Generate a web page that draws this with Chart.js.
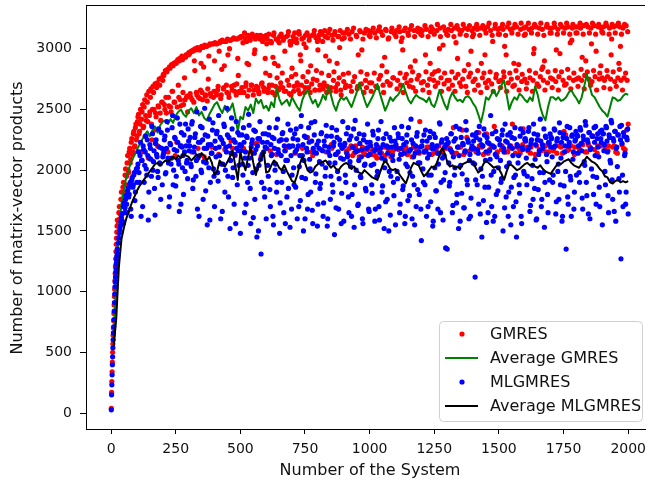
<!DOCTYPE html>
<html>
<head>
<meta charset="utf-8">
<script src="https://cdn.jsdelivr.net/npm/chart.js@4.4.1/dist/chart.umd.min.js"></script>
<style>
  html, body { margin: 0; padding: 0; background: #fff; }
  #wrap { width: 649px; height: 485px; }
</style>
</head>
<body>
<div id="wrap"><canvas id="myChart" width="649" height="485"></canvas></div>
<script>
// systems 1..24, one value each
const earlyStart = 1;
const gmresEarly = [40, 170, 260, 340, 420, 500, 570, 640, 700, 760, 820, 890, 960, 1020, 1090, 1150, 1210, 1270, 1330, 1390, 1440, 1490, 1540, 1590];
const mlgmresEarly = [27, 150, 233, 315, 398, 463, 537, 603, 660, 710, 770, 840, 910, 980, 1040, 1080, 1120, 1160, 1190, 1230, 1260, 1290, 1320, 1350];

// systems 28, 32, ... 2000
const startA = 28;
// systems 30, 34, ... 1998
const startB = 30;
const mainStep = 4;

const gmresA = [
  1560, 1700, 1640, 1820, 1760, 1900, 1820, 2010, 1950, 2120, 1980, 2180, 2090, 2260, 2150, 2320, 2200, 2380, 2280,
  2440, 2300, 2380, 2150, 2480, 2350, 2520, 2280, 2410, 2560, 2100, 2450, 2600, 2380, 2500, 2640, 2330, 2470, 2680, 2200, 2520, 2700, 2410, 2560, 2740,
  2780, 2500, 2600, 2810, 2150, 2530, 2840, 2480, 2650, 2860, 2560, 2120, 2880, 2520, 2700, 2900, 2580, 2200, 2910, 2540, 2760, 2930, 2600, 2480, 2950,
  2960, 2600, 2150, 2980, 2560, 2820, 2990, 2620, 2180, 3000, 2590, 2880, 2640, 3010, 2110, 2610, 3020, 2570, 2750, 3030, 2630, 2200, 3040, 2600, 2900,
  3040, 2620, 2660, 2130, 3050, 2590, 2830, 3060, 2680, 2170, 3060, 2640, 2950, 2600, 3070, 2240, 2660, 3080, 2700, 2120, 2620, 3080, 2780, 2650, 3090,
  3100, 2640, 2180, 3130, 2690, 3060, 2610, 2870, 3090, 2150, 2700, 3100, 2660, 2990, 2220, 3110, 2680, 2630, 3080, 2110, 2720, 3100, 2650, 2920, 3110,
  3080, 2670, 2700, 2160, 3050, 2640, 3110, 2880, 2690, 2130, 3070, 2660, 3100, 2720, 2250, 2680, 3090, 2980, 2650, 2190, 3110, 2700, 3060, 2620, 2840,
  3100, 2690, 2140, 3080, 2720, 2660, 3120, 2950, 2700, 2180, 3090, 2640, 3110, 2730, 2270, 2680, 3100, 2860, 2710, 2120, 3120, 2660, 3090, 2740, 2990,
  3110, 2700, 2170, 3120, 2670, 2720, 3100, 2150, 2690, 3130, 2900, 2650, 2210, 3110, 2740, 3120, 2680, 2130, 2710, 3100, 3010, 2660, 2190, 3130, 2730,
  3130, 2700, 2160, 2120, 3120, 2690, 2200, 3140, 2730, 2140, 2180, 3110, 2670, 2950, 2110, 3140, 2710, 2190, 2150, 3130, 2740, 2680, 2170, 3150, 2720,
  3140, 2720, 2130, 2170, 3130, 2690, 2100, 3150, 2750, 2150, 3140, 2860, 2700, 2190, 2120, 3150, 2730, 3080, 2160, 2710, 3140, 2140, 2760, 3130, 2200,
  3150, 2740, 2170, 3140, 2700, 2130, 2990, 3150, 2760, 2190, 2720, 3130, 2150, 3160, 2740, 2110, 2680, 3150, 2900, 2180, 2750, 3140, 2140, 3160, 2720,
  3150, 2730, 2160, 2950, 3160, 2700, 2190, 2750, 3140, 2130, 3160, 2740, 2810, 2170, 3150, 2720, 2200, 3170, 2760, 2150, 3030, 2710, 3150, 2180, 2740,
  3160, 2740, 2170, 3150, 2700, 2350, 3170, 2760, 2140, 2920, 3160, 2720, 2190, 3150, 2750, 2130, 3170, 2690, 2270, 3160, 2770, 2160, 2980, 3150, 2730,
  3170, 2750, 2150, 3160, 2700, 2200, 3170, 2880, 2760, 2130, 3160, 2720, 2300, 3180, 2740, 2170, 3150, 2710, 3060, 2190, 3170, 2760, 2140, 3160, 2730,
  3170, 2740, 2200, 3160, 2770, 2150, 2950, 3180, 2720, 2180, 3160, 2750, 2380, 3170, 2700, 2140, 3180, 2760, 2870, 2170, 3160, 2730, 2210, 3170, 2750,
  3180, 2720, 2160, 3160, 2760, 2190, 3170, 2740, 3000, 2130, 3180, 2710, 2250, 3170, 2770, 2160, 3160, 2740, 2900, 2200, 3180, 2720, 2150, 3170, 2760,
  3170, 2750, 2180, 3180, 2730, 2140, 3160, 2770, 2960, 2190, 3180, 2740, 2320, 3170, 2710, 2160, 3180, 2760, 3050, 2200, 3170, 2740, 2130, 3180, 2750,
  3180, 2760, 2170, 3170, 2740, 2210, 3190, 2780, 2900, 2150, 3180, 2750, 2190, 3170, 2730, 2280, 3190, 2770, 2980, 2140, 3180, 2750, 2200, 3170, 2760,
  3180, 2740, 2160, 3190, 2770, 2200, 3170, 2750, 3080, 2190, 3180, 2730, 2150, 3190, 2760, 2880, 3180, 2740, 2210, 3170, 2760, 2170, 3190, 2740, 2380
];
const gmresB = [
  1650, 1600, 1760, 1700, 1860, 1780, 1960, 1880, 2060, 2000, 2150, 2060, 2230, 2130, 2300, 2190, 2350, 2250,
  2400, 2460, 2320, 2500, 2420, 2540, 2360, 2580, 2450, 2620, 2400, 2650, 2480, 2670, 2250, 2690, 2500, 2710, 2440, 2720, 2530, 2750, 2470, 2760, 2560,
  2790, 2540, 2820, 2470, 2830, 2600, 2850, 2520, 2870, 2650, 2880, 2560, 2890, 2230, 2910, 2600, 2920, 2530, 2940, 2640, 2930, 2580, 2950, 2610, 2960,
  2970, 2630, 2980, 2580, 2990, 2900, 3000, 2640, 3010, 2600, 2990, 2660, 3020, 2580, 2850, 3030, 2620, 3020, 2670, 2940, 3040, 2610, 2190, 3040, 2650,
  3050, 2640, 3040, 2690, 2980, 3060, 2620, 3070, 2670, 2860, 3060, 2700, 3080, 2630, 3000, 3070, 2690, 2180, 3090, 2650, 3080, 2710, 2920, 3090, 2640,
  3100, 2680, 3050, 2640, 3090, 2720, 2880, 3110, 2660, 3070, 2700, 3120, 2620, 2960, 3080, 2690, 3100, 2650, 2240, 3110, 2710, 3060, 2680, 3090, 2800,
  3040, 2640, 3120, 2780, 3060, 2700, 2930, 3130, 2620, 3080, 2760, 2860, 3050, 2680, 3120, 2800, 3070, 2650, 2160, 3100, 2740, 3140, 2630, 3030, 2770,
  3060, 2650, 3130, 2790, 3050, 2700, 3140, 2630, 2900, 3080, 2770, 3040, 2680, 3010, 3130, 2810, 3070, 2640, 2150, 3110, 2750, 3150, 2660, 2820, 3060,
  3080, 2660, 3140, 2800, 3060, 2700, 3150, 2940, 2640, 3090, 2780, 3160, 2680, 2180, 3070, 2810, 3140, 2650, 2880, 3100, 2760, 3150, 2620, 3080, 2790,
  3090, 2680, 2150, 3160, 2800, 2180, 3080, 2650, 2120, 3170, 2770, 2200, 3100, 2690, 2160, 3150, 2810, 2990, 3080, 2640, 2130, 3160, 2790, 2190, 3110,
  3100, 2650, 2160, 3170, 2800, 2120, 3090, 2680, 2190, 3180, 2780, 2140, 3110, 2640, 2930, 3160, 2810, 2180, 3090, 2700, 2110, 3170, 2760, 2170, 3120,
  3100, 2670, 2180, 3180, 2800, 3060, 3090, 2640, 2160, 3170, 2790, 2130, 3110, 2690, 2850, 3190, 2810, 2190, 3100, 2650, 2150, 3170, 2780, 2400, 3120,
  3110, 2660, 2150, 3190, 2810, 2190, 3100, 2640, 2880, 3180, 2790, 2140, 3120, 2690, 2180, 3200, 2820, 3000, 3100, 2650, 2160, 3180, 2800, 2200, 3120,
  3110, 2670, 2180, 3200, 2810, 2140, 3100, 2650, 3050, 3190, 2790, 2190, 3120, 2690, 2330, 3200, 2820, 2150, 3110, 2640, 2870, 3190, 2800, 2170, 3100,
  3120, 2660, 2160, 3200, 2820, 2310, 3110, 2640, 2190, 3190, 2800, 2950, 3130, 2680, 2140, 3210, 2810, 2200, 3110, 2650, 2360, 3200, 2790, 2150, 3120,
  3120, 2680, 2170, 3200, 2810, 3020, 3110, 2650, 2150, 3210, 2800, 2200, 3130, 2690, 2880, 3200, 2820, 2190, 3120, 2660, 2140, 3210, 2790, 2340, 3110,
  3120, 2670, 2190, 3210, 2820, 2140, 3130, 2650, 2960, 3200, 2800, 2200, 3120, 2690, 2170, 3210, 2830, 2850, 3110, 2660, 2150, 3200, 2810, 2230, 3130,
  3130, 2680, 2160, 3210, 2820, 2990, 3120, 2660, 2200, 3200, 2810, 2140, 3130, 2700, 2290, 3210, 2830, 2170, 3120, 2670, 3070, 3200, 2800, 2190, 3130,
  3130, 2690, 2180, 3210, 2830, 2930, 3120, 2670, 2150, 3200, 2810, 2210, 3130, 2700, 3040, 3210, 2820, 2170, 3120, 2660, 2200, 3200, 2800, 2860, 3140,
  3130, 2680, 2190, 3210, 2820, 2160, 3120, 2670, 2950, 3200, 2810, 2200, 3130, 2690, 2140, 3210, 2830, 3020, 3120, 2660, 2180, 3200, 2800, 2330, 3140
];
const mlgmresA = [
  1400, 1480, 1540, 1610, 1580, 1700, 1650, 1760, 1720, 1830, 1780, 1880, 1680, 1920, 1860, 1960, 1750, 1990, 1900,
  2050, 1980, 2120, 1620, 2080, 2200, 1900, 2150, 2010, 2250, 1590, 2100, 2180, 1950, 2300, 2070, 1850, 2220, 2130, 1990, 2340, 2060, 1760, 2180, 2110,
  2150, 2280, 1980, 2400, 2100, 1700, 2220, 2050, 2350, 1880, 2170, 2260, 1950, 2430, 2080, 1660, 2200, 2310, 2020, 1800, 2150, 2380, 2060, 1930, 2240,
  2200, 2050, 2380, 1850, 2150, 2270, 1950, 2480, 2100, 1620, 2230, 2000, 2350, 1760, 2180, 2290, 2060, 1550, 2210, 2420, 1900, 2140, 2330, 2010, 1700,
  2180, 2300, 1980, 2450, 2120, 1600, 2250, 2050, 2380, 1820, 2190, 2510, 1950, 2270, 1520, 2140, 2340, 2020, 1720, 2230, 2400, 1880, 2160, 2290, 1480,
  2200, 2050, 2350, 1650, 2150, 2280, 1900, 2460, 2100, 1560, 2220, 1980, 2330, 1760, 2170, 1450, 2260, 2040, 2400, 1310, 2130, 2300, 1850, 2190, 1600,
  2230, 1950, 2350, 1700, 2120, 2270, 1550, 2180, 2050, 1820, 2420, 2140, 1480, 2250, 1900, 2310, 1650, 2160, 2080, 1780, 2380, 2200, 1530, 2120, 1960,
  2260, 1880, 2150, 2340, 1600, 2200, 2030, 1750, 2450, 2120, 1500, 2280, 1930, 2180, 1680, 2350, 2090, 1820, 2240, 1560, 2150, 2400, 1970, 2210, 1720,
  2180, 1850, 2300, 2050, 1620, 2240, 1950, 2370, 1540, 2150, 2060, 1760, 2280, 1880, 2200, 1470, 2130, 2330, 1990, 1680, 2250, 2100, 1810, 2400, 1580,
  2220, 1900, 2140, 2350, 1650, 2070, 2280, 1800, 2190, 1530, 2410, 2000, 2160, 1720, 2300, 1950, 2110, 1600, 2250, 2040, 1850, 2180, 2380, 1680, 2130,
  2200, 1880, 2320, 2050, 1580, 2170, 1950, 2260, 1700, 2140, 2400, 1820, 2210, 1520, 2080, 2300, 1760, 2190, 1990, 1630, 2240, 2120, 1900, 2350, 1550,
  2180, 1930, 2270, 1650, 2130, 2360, 1840, 2210, 1560, 2050, 2290, 1750, 2160, 1980, 2420, 1600, 2220, 1880, 2140, 1700, 2310, 2060, 1800, 2190, 1420,
  2240, 1900, 2150, 2330, 1620, 2100, 1960, 2270, 1740, 2180, 1540, 2300, 2020, 1830, 2200, 1680, 2140, 2380, 1900, 2250, 1590, 2120, 1980, 2210, 1350,
  2230, 1870, 2170, 2300, 1650, 2110, 1960, 2260, 1730, 2190, 1520, 2340, 2040, 1810, 2220, 1690, 2150, 2400, 1920, 2250, 1600, 2130, 1770, 2200, 2060,
  2180, 1120, 2270, 1880, 2140, 2360, 1640, 2210, 1950, 1750, 2290, 2080, 1570, 2230, 1860, 2160, 2450, 1700, 2200, 1990, 1620, 2320, 2110, 1830, 2250,
  2210, 1900, 2290, 1500, 2150, 2380, 1780, 2230, 1620, 2060, 2310, 1860, 2180, 1700, 2260, 1960, 1450, 2200, 2120, 1810, 2340, 1560, 2170, 1990, 2250,
  2240, 1880, 2170, 2350, 1660, 2220, 1930, 1760, 2300, 2090, 1590, 2250, 1840, 2160, 2420, 1700, 2210, 1980, 1530, 2280, 2130, 1800, 2230, 1920, 2190,
  2260, 1900, 2190, 2330, 1640, 2240, 1990, 1760, 2310, 2100, 1580, 2270, 1870, 2200, 1350, 2360, 1720, 2230, 1950, 1620, 2290, 2150, 1820, 2250, 1960,
  2280, 2200, 1900, 2330, 2160, 1680, 2250, 2040, 2370, 1790, 2230, 2310, 1600, 2180, 2280, 1950, 2350, 2120, 1720, 2260, 2190, 1860, 2320, 2230, 1550,
  2300, 2210, 1880, 2350, 2150, 1650, 2270, 2060, 2390, 1760, 2240, 2320, 1580, 2190, 2290, 1930, 2360, 1270, 2220, 1700, 2280, 2140, 1820, 2250, 1640
];
const mlgmresB = [
  1440, 1510, 1580, 1640, 1560, 1730, 1690, 1790, 1650, 1850, 1800, 1900, 1620, 1940, 1880, 1980, 1820, 2010,
  2020, 2150, 1900, 2230, 2080, 1700, 2170, 2040, 2280, 1960, 2120, 1820, 2210, 2090, 2360, 2000, 2160, 1630, 2250, 2110, 1940, 2190, 2050, 2310, 1880,
  2130, 2250, 1970, 2180, 2330, 2060, 1780, 2210, 2100, 2450, 2000, 2270, 1870, 2160, 2230, 2050, 2380, 1720, 2190, 2120, 2290, 1990, 2200, 2080, 2340,
  2160, 2270, 2030, 2400, 1920, 2190, 2300, 2080, 1680, 2230, 2120, 2360, 1980, 2250, 2070, 2510, 1830, 2180, 2280, 2020, 1590, 2210, 2140, 2390, 1950,
  2240, 2110, 2320, 1910, 2190, 2270, 2050, 1660, 2220, 2360, 2000, 2150, 2290, 1780, 2200, 2080, 2430, 1940, 2250, 2130, 1560, 2180, 2310, 2040, 2210,
  2160, 2290, 1960, 2230, 2100, 1720, 2270, 2040, 2370, 1850, 2190, 2250, 1610, 2140, 2320, 2010, 2200, 1500, 2260, 2090, 1900, 2230, 2150, 1780, 2300,
  2180, 2040, 2290, 1840, 2210, 2130, 1620, 2260, 2000, 2350, 1900, 2170, 2240, 1730, 2120, 2300, 1990, 2200, 1560, 2250, 2080, 1850, 2190, 2330, 1680,
  2200, 2020, 2300, 1860, 2170, 2250, 1700, 2120, 2360, 1940, 2210, 2080, 1600, 2270, 2150, 1800, 2230, 2010, 2390, 1670, 2180, 2290, 1900, 2140, 1540,
  2240, 2070, 1890, 2310, 2160, 1730, 2200, 2020, 2280, 1600, 2190, 2120, 1950, 2350, 1820, 2230, 2060, 1690, 2270, 2150, 1930, 2210, 1560, 2180, 2090,
  2200, 1960, 2300, 2110, 1780, 2250, 2030, 1620, 2190, 2340, 1880, 2150, 2260, 1710, 2080, 2220, 1940, 2170, 1560, 2290, 2050, 1830, 2230, 2120, 1660,
  2230, 2040, 1810, 2290, 2160, 1680, 2210, 1990, 2330, 1590, 2180, 2100, 1870, 2260, 2020, 1740, 2200, 2140, 1500, 2270, 1950, 2190, 2080, 1790, 2240,
  2210, 1990, 2300, 2090, 1720, 2180, 2260, 1870, 2140, 1620, 2230, 2030, 2350, 1790, 2170, 2250, 1950, 2110, 1550, 2200, 2280, 1840, 2150, 2060, 1680,
  2200, 2010, 2290, 1880, 2160, 2240, 1700, 2130, 2320, 1960, 2210, 1580, 2180, 2270, 1830, 2140, 2050, 2390, 1650, 2230, 2100, 1920, 2190, 1360, 2260,
  2220, 2060, 1900, 2300, 2150, 1710, 2240, 2020, 2360, 1800, 2190, 2120, 1580, 2270, 1970, 2210, 1690, 2160, 2330, 1880, 2230, 2080, 1620, 2180, 2290,
  2240, 2050, 1920, 2310, 2170, 1720, 2250, 2010, 1450, 2200, 2340, 1860, 2150, 2270, 1650, 2220, 2090, 1960, 2300, 1580, 2190, 2130, 1800, 2260, 2020,
  2250, 2080, 1930, 2330, 2180, 1690, 2240, 2030, 2290, 1820, 2200, 1550, 2270, 2120, 1940, 2350, 1740, 2210, 2060, 1880, 2280, 1620, 2190, 2310, 1970,
  2260, 2100, 1950, 2320, 2190, 1710, 2250, 2040, 2380, 1850, 2210, 1600, 2290, 2130, 1980, 2240, 1760, 2180, 2340, 1900, 2270, 2070, 1650, 2220, 2300,
  2270, 2110, 1960, 2340, 2200, 1740, 2260, 2050, 2390, 1880, 2230, 1620, 2300, 2150, 1990, 2260, 1780, 2200, 2350, 1920, 2280, 2090, 1680, 2240, 2320,
  2290, 2140, 1980, 2350, 2220, 1770, 2280, 2070, 2400, 1900, 2250, 1640, 2310, 2170, 2010, 2280, 1800, 2230, 2360, 1940, 2300, 2110, 1700, 2260, 2330,
  2300, 2160, 1990, 2360, 2240, 1790, 2290, 2080, 2410, 1920, 2260, 1660, 2320, 2180, 2030, 2290, 1820, 2250, 2370, 1960, 2310, 2120, 1720, 2270, 2340
];

// running averages, systems 10, 20, ... 2000
const avgStep = 10;
const avgGmres = [
  600, 1150, 1500, 1720, 1850, 1950, 2020, 2080, 2120, 2170,
  2210, 2250, 2290, 2320, 2280, 2330, 2360, 2310, 2370, 2400,
  2410, 2380, 2420, 2390, 2450, 2480, 2500, 2460, 2440, 2490,
  2510, 2470, 2520, 2450, 2480, 2430, 2410, 2460, 2500, 2540,
  2560, 2510, 2470, 2530, 2480, 2500, 2550, 2450, 2320, 2440,
  2420, 2520, 2490, 2540, 2470, 2590, 2550, 2580, 2510, 2530,
  2490, 2560, 2520, 2680, 2590, 2540, 2560, 2580, 2530, 2600,
  2560, 2520, 2490, 2580, 2630, 2660, 2600, 2550, 2580, 2520,
  2560, 2620, 2580, 2690, 2620, 2540, 2490, 2560, 2600, 2580,
  2600, 2560, 2520, 2580, 2640, 2720, 2650, 2580, 2520, 2560,
  2600, 2650, 2710, 2630, 2560, 2490, 2540, 2600, 2570, 2600,
  2620, 2660, 2710, 2640, 2580, 2550, 2590, 2620, 2600, 2590,
  2580, 2560, 2600, 2540, 2520, 2580, 2660, 2600, 2540, 2500,
  2590, 2640, 2600, 2570, 2580, 2560, 2600, 2610, 2590, 2550,
  2520, 2460, 2390, 2480, 2600, 2580, 2620, 2660, 2610, 2650,
  2700, 2740, 2620, 2500, 2560, 2600, 2580, 2630, 2610, 2580,
  2560, 2600, 2570, 2690, 2620, 2520, 2450, 2410, 2520, 2600,
  2600, 2580, 2600, 2570, 2580, 2600, 2640, 2660, 2620, 2590,
  2550, 2600, 2690, 2790, 2700, 2620, 2600, 2560, 2520, 2490,
  2470, 2440, 2520, 2600, 2590, 2570, 2580, 2610, 2630, 2620
];
const avgMlgmres = [
  550, 780, 1200, 1430, 1530, 1610, 1670, 1730, 1780, 1830,
  1870, 1900, 1930, 1960, 1990, 2020, 2050, 2060, 2040, 2060,
  2080, 2070, 2090, 2110, 2090, 2120, 2100, 2140, 2120, 2110,
  2080, 2100, 2130, 2110, 2140, 2120, 2080, 2110, 2060, 1960,
  1990, 2080, 2050, 2030, 2070, 2110, 2160, 2040, 1920, 2150,
  2060, 2000, 2110, 2190, 2060, 1960, 2050, 2090, 2160, 1980,
  1990, 2040, 2080, 2060, 2020, 2000, 2040, 1990, 1950, 1910,
  1900, 1960, 2050, 2110, 2060, 2000, 1980, 1990, 2030, 2050,
  2060, 2070, 2080, 2050, 2020, 2040, 2010, 2000, 2030, 2050,
  2060, 2040, 2010, 2030, 1990, 1980, 1970, 2000, 1980, 1960,
  1940, 1930, 1920, 1980, 2040, 2080, 2050, 2010, 2000, 2010,
  1980, 1950, 1920, 1890, 1950, 2020, 2060, 2050, 2040, 1990,
  1950, 1970, 2000, 2030, 2020, 2060, 2120, 2180, 2140, 2070,
  2030, 2040, 2020, 2030, 2010, 2050, 2060, 2070, 2080, 2060,
  2020, 1980, 2000, 2050, 2080, 2060, 2040, 2020, 2030, 2010,
  1970, 1920, 1990, 2050, 2040, 2020, 2000, 2010, 2030, 2050,
  2060, 2040, 2050, 2030, 2020, 2040, 2010, 1990, 1980, 1970,
  2000, 2030, 2060, 2050, 2070, 2080, 2090, 2060, 2040, 2030,
  2020, 2050, 2080, 2110, 2090, 2070, 2060, 2040, 2010, 1990,
  1950, 1940, 1900, 1890, 1910, 1920, 1900, 1910, 1900, 1910
];

const xTicks = [0, 250, 500, 750, 1000, 1250, 1500, 1750, 2000];
const yTicks = [0, 500, 1000, 1500, 2000, 2500, 3000];

function scatterPoints(early, a, b) {
  const pts = early.map((v, i) => ({ x: earlyStart + i, y: v }));
  a.forEach((v, i) => pts.push({ x: startA + i * mainStep, y: v }));
  b.forEach((v, i) => pts.push({ x: startB + i * mainStep, y: v }));
  return pts;
}
function avgPoints(vals) {
  return vals.map((v, i) => ({ x: (i + 1) * avgStep, y: v }));
}

const FONT = 'DejaVu Sans';

// top spine + axis titles + boxed legend like matplotlib
const framePlugin = {
  id: 'frame',
  afterDraw(chart) {
    const ctx = chart.ctx;
    const a = chart.chartArea;
    ctx.save();
    ctx.strokeStyle = '#000';
    ctx.lineWidth = 1;
    ctx.beginPath();
    ctx.moveTo(a.left, a.top + 0.5);
    ctx.lineTo(a.right, a.top + 0.5);
    ctx.stroke();

    ctx.fillStyle = '#111';
    ctx.font = '16px "' + FONT + '"';
    ctx.textAlign = 'center';
    ctx.textBaseline = 'middle';
    ctx.fillText('Number of the System', 370, 471);
    ctx.save();
    ctx.translate(18, 218);
    ctx.rotate(-Math.PI / 2);
    ctx.fillText('Number of matrix-vector products', 0, 0);
    ctx.restore();

    // legend box
    const bx = 439.5, by = 321.5, bw = 203, bh = 100, r = 4;
    ctx.beginPath();
    ctx.moveTo(bx + r, by);
    ctx.arcTo(bx + bw, by, bx + bw, by + bh, r);
    ctx.arcTo(bx + bw, by + bh, bx, by + bh, r);
    ctx.arcTo(bx, by + bh, bx, by, r);
    ctx.arcTo(bx, by, bx + bw, by, r);
    ctx.closePath();
    ctx.fillStyle = 'rgba(255,255,255,0.8)';
    ctx.fill();
    ctx.strokeStyle = '#d0d0d0';
    ctx.lineWidth = 1;
    ctx.stroke();

    ctx.textAlign = 'left';
    chart.data.datasets.forEach((ds, i) => {
      const y = 334 + i * 24;
      if (ds.showLine) {
        ctx.strokeStyle = ds.borderColor;
        ctx.lineWidth = 2;
        ctx.beginPath();
        ctx.moveTo(445, y);
        ctx.lineTo(478, y);
        ctx.stroke();
      } else {
        ctx.fillStyle = ds.backgroundColor;
        ctx.beginPath();
        ctx.arc(462, y, 2.6, 0, Math.PI * 2);
        ctx.fill();
      }
      ctx.fillStyle = '#111';
      ctx.fillText(ds.label, 490, y + 1);
    });
    ctx.restore();
  }
};

new Chart(document.getElementById('myChart'), {
  type: 'scatter',
  data: {
    datasets: [
      { label: 'GMRES', data: scatterPoints(gmresEarly, gmresA, gmresB), backgroundColor: '#ff0000',
        pointRadius: 2.6, pointBorderWidth: 0, order: 4 },
      { label: 'Average GMRES', data: avgPoints(avgGmres), showLine: true, borderColor: '#008000',
        borderWidth: 2, pointRadius: 0, borderJoinStyle: 'round', order: 3 },
      { label: 'MLGMRES', data: scatterPoints(mlgmresEarly, mlgmresA, mlgmresB), backgroundColor: '#0000ff',
        pointRadius: 2.6, pointBorderWidth: 0, order: 2 },
      { label: 'Average MLGMRES', data: avgPoints(avgMlgmres), showLine: true, borderColor: '#000000',
        borderWidth: 2, pointRadius: 0, borderJoinStyle: 'round', order: 1 }
    ]
  },
  options: {
    responsive: false,
    animation: false,
    devicePixelRatio: 1,
    layout: { padding: { top: 5, right: 0, left: 0, bottom: 0 } },
    plugins: { legend: { display: false }, tooltip: { enabled: false } },
    scales: {
      x: {
        type: 'linear',
        min: -97,
        max: 2065,
        afterBuildTicks: s => { s.ticks = xTicks.map(v => ({ value: v })); },
        afterFit: s => { s.height = 56; s.paddingLeft = 0; s.paddingRight = 0; },
        grid: { drawOnChartArea: false, tickLength: 5, tickColor: '#000', tickWidth: 1 },
        border: { color: '#000', width: 1 },
        ticks: { color: '#111', padding: 7, maxRotation: 0, font: { family: FONT, size: 14 },
          callback: v => String(v) }
      },
      y: {
        type: 'linear',
        min: -131,
        max: 3360,
        afterBuildTicks: s => { s.ticks = yTicks.map(v => ({ value: v })); },
        afterFit: s => { s.width = 86; s.paddingTop = 0; s.paddingBottom = 0; },
        grid: { drawOnChartArea: false, tickLength: 6, tickColor: '#000', tickWidth: 1 },
        border: { color: '#000', width: 1 },
        ticks: { color: '#111', padding: 8, font: { family: FONT, size: 14 },
          callback: v => String(v) }
      }
    }
  },
  plugins: [framePlugin]
});
</script>
</body>
</html>
